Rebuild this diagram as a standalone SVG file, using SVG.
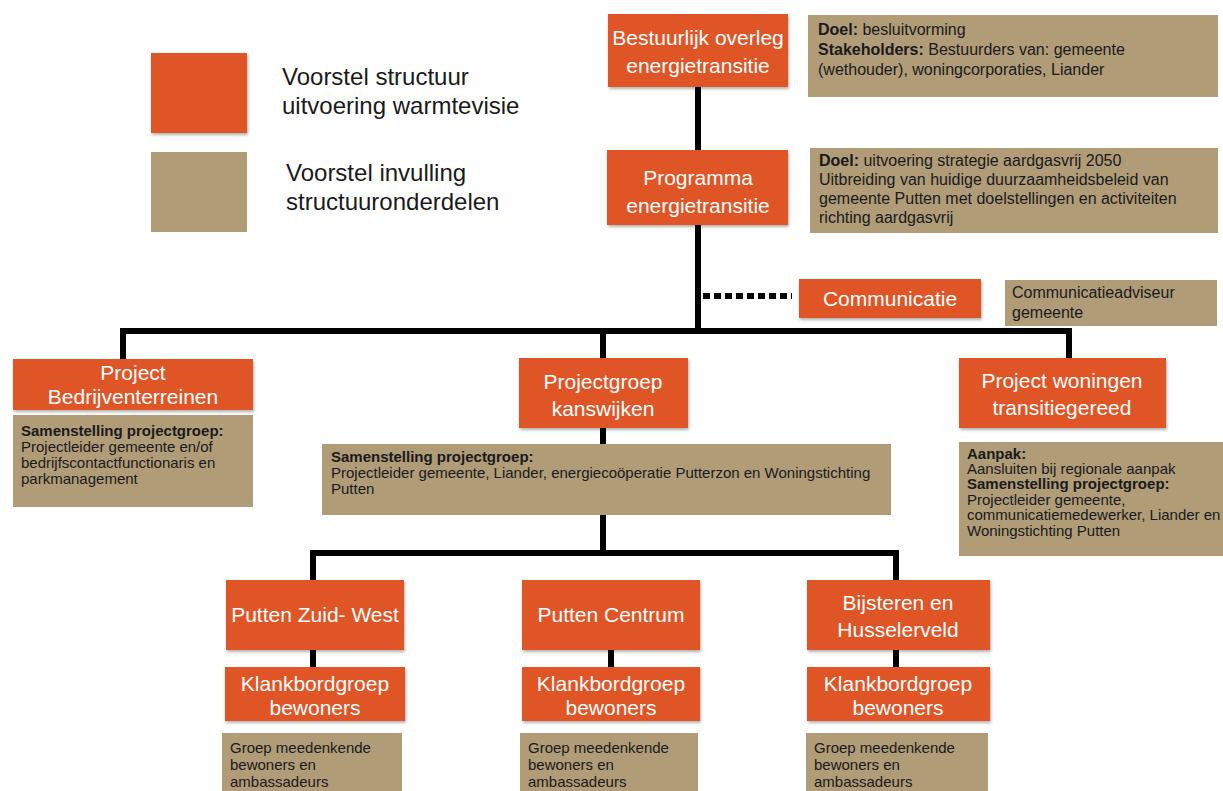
<svg xmlns="http://www.w3.org/2000/svg" width="1223" height="791" viewBox="0 0 1223 791">
<defs>
<filter id="sh" x="-5%" y="-5%" width="115%" height="125%">
<feDropShadow dx="1" dy="2" stdDeviation="1.5" flood-color="#000" flood-opacity="0.3"/>
</filter>
<style>
.o{fill:#DF5428;filter:url(#sh)}
.t{fill:#B09C77}
.ot{font-family:"Liberation Sans",Arial,sans-serif;font-size:21px;fill:#fff;text-anchor:middle}
.it{font-family:"Liberation Sans",Arial,sans-serif;font-size:15px;fill:#1a1a1a}
.i16{font-size:16px}
.b{font-weight:bold}
.lg{font-family:"Liberation Sans",Arial,sans-serif;font-size:24px;fill:#1a1a1a}
.ln{stroke:#000;stroke-width:6;fill:none}
.dt{stroke:#000;stroke-width:6;fill:none;stroke-dasharray:7 4}
</style>
</defs>
<rect width="1223" height="791" fill="#fff"/>

<g id="legend">
<rect class="o" x="151" y="53" width="96" height="80"/>
<text class="lg" x="282" y="85">Voorstel structuur</text>
<text class="lg" x="282" y="114">uitvoering warmtevisie</text>
<rect class="t" x="151" y="152" width="96" height="80"/>
<text class="lg" x="286" y="181">Voorstel invulling</text>
<text class="lg" x="286" y="210">structuuronderdelen</text>
</g>

<g id="connectors">
<path class="ln" d="M698 87V331"/>
<path class="dt" d="M703 296H792"/>
<path class="ln" d="M123 361V331H1069V359"/>
<path class="ln" d="M603 331V359"/>
<path class="ln" d="M603 428V444"/>
<path class="ln" d="M603 514V553"/>
<path class="ln" d="M313 581V553H896V581"/>
<path class="ln" d="M313 650V668"/>
<path class="ln" d="M611 650V668"/>
<path class="ln" d="M896 650V668"/>
</g>

<g id="bestuurlijk">
<rect class="o" x="608" y="14" width="180" height="73"/>
<text class="ot" x="698" y="45">Bestuurlijk overleg</text>
<text class="ot" x="698" y="73">energietransitie</text>
</g>
<g id="info-bestuurlijk">
<rect class="t" x="808" y="15" width="410" height="82"/>
<text class="it i16" x="818" y="35"><tspan class="b">Doel:</tspan> besluitvorming</text>
<text class="it i16" x="818" y="55"><tspan class="b">Stakeholders:</tspan> Bestuurders van: gemeente</text>
<text class="it i16" x="818" y="75">(wethouder), woningcorporaties, Liander</text>
</g>

<g id="programma">
<rect class="o" x="607" y="150" width="181" height="75"/>
<text class="ot" x="698" y="185">Programma</text>
<text class="ot" x="698" y="213">energietransitie</text>
</g>
<g id="info-programma">
<rect class="t" x="810" y="148" width="408" height="85"/>
<text class="it i16" x="819" y="166"><tspan class="b">Doel:</tspan> uitvoering strategie aardgasvrij 2050</text>
<text class="it i16" x="819" y="185">Uitbreiding van huidige duurzaamheidsbeleid van</text>
<text class="it i16" x="819" y="204">gemeente Putten met doelstellingen en activiteiten</text>
<text class="it i16" x="819" y="223">richting aardgasvrij</text>
</g>

<g id="communicatie">
<rect class="o" x="799" y="279" width="182" height="39"/>
<text class="ot" x="890" y="306">Communicatie</text>
</g>
<g id="info-communicatie">
<rect class="t" x="1005" y="280" width="212" height="46"/>
<text class="it i16" x="1012" y="298">Communicatieadviseur</text>
<text class="it i16" x="1012" y="318">gemeente</text>
</g>

<g id="bedrijventerreinen">
<rect class="o" x="13" y="359" width="240" height="51"/>
<text class="ot" x="133" y="380">Project</text>
<text class="ot" x="133" y="404">Bedrijventerreinen</text>
</g>
<g id="info-bedrijventerreinen">
<rect class="t" x="13" y="415" width="240" height="92"/>
<text class="it" x="21" y="436"><tspan class="b">Samenstelling projectgroep:</tspan></text>
<text class="it" x="21" y="452">Projectleider gemeente en/of</text>
<text class="it" x="21" y="468">bedrijfscontactfunctionaris en</text>
<text class="it" x="21" y="484">parkmanagement</text>
</g>

<g id="kanswijken">
<rect class="o" x="519" y="358" width="169" height="70"/>
<text class="ot" x="603" y="389">Projectgroep</text>
<text class="ot" x="603" y="416">kanswijken</text>
</g>
<g id="info-kanswijken">
<rect class="t" x="322" y="444" width="569" height="71"/>
<text class="it" x="331" y="462"><tspan class="b">Samenstelling projectgroep:</tspan></text>
<text class="it" x="331" y="478">Projectleider gemeente, Liander, energiecoöperatie Putterzon en Woningstichting</text>
<text class="it" x="331" y="494">Putten</text>
</g>

<g id="woningen">
<rect class="o" x="959" y="358" width="207" height="70"/>
<text class="ot" x="1062" y="388">Project woningen</text>
<text class="ot" x="1062" y="415">transitiegereed</text>
</g>
<g id="info-woningen">
<rect class="t" x="959" y="442" width="264" height="114"/>
<text class="it" x="967" y="459"><tspan class="b">Aanpak:</tspan></text>
<text class="it" x="967" y="474">Aansluiten bij regionale aanpak</text>
<text class="it" x="967" y="489"><tspan class="b">Samenstelling projectgroep:</tspan></text>
<text class="it" x="967" y="505">Projectleider gemeente,</text>
<text class="it" x="967" y="520">communicatiemedewerker, Liander en</text>
<text class="it" x="967" y="536">Woningstichting Putten</text>
</g>

<g id="zuidwest">
<rect class="o" x="226" y="580" width="178" height="70"/>
<text class="ot" x="315" y="622">Putten Zuid- West</text>
</g>
<g id="centrum">
<rect class="o" x="522" y="580" width="178" height="70"/>
<text class="ot" x="611" y="622">Putten Centrum</text>
</g>
<g id="bijsteren">
<rect class="o" x="807" y="580" width="183" height="70"/>
<text class="ot" x="898" y="610">Bijsteren en</text>
<text class="ot" x="898" y="637">Husselerveld</text>
</g>

<g id="klank-zuidwest">
<rect class="o" x="225" y="667" width="180" height="54"/>
<text class="ot" x="315" y="691">Klankbordgroep</text>
<text class="ot" x="315" y="715">bewoners</text>
</g>
<g id="klank-centrum">
<rect class="o" x="522" y="667" width="178" height="54"/>
<text class="ot" x="611" y="691">Klankbordgroep</text>
<text class="ot" x="611" y="715">bewoners</text>
</g>
<g id="klank-bijsteren">
<rect class="o" x="807" y="667" width="183" height="54"/>
<text class="ot" x="898" y="691">Klankbordgroep</text>
<text class="ot" x="898" y="715">bewoners</text>
</g>

<g id="groep-zuidwest">
<rect class="t" x="222" y="733" width="180" height="58"/>
<text class="it" x="230" y="753">Groep meedenkende</text>
<text class="it" x="230" y="770">bewoners en</text>
<text class="it" x="230" y="787">ambassadeurs</text>
</g>
<g id="groep-centrum">
<rect class="t" x="520" y="733" width="178" height="58"/>
<text class="it" x="528" y="753">Groep meedenkende</text>
<text class="it" x="528" y="770">bewoners en</text>
<text class="it" x="528" y="787">ambassadeurs</text>
</g>
<g id="groep-bijsteren">
<rect class="t" x="806" y="733" width="182" height="58"/>
<text class="it" x="814" y="753">Groep meedenkende</text>
<text class="it" x="814" y="770">bewoners en</text>
<text class="it" x="814" y="787">ambassadeurs</text>
</g>
</svg>
